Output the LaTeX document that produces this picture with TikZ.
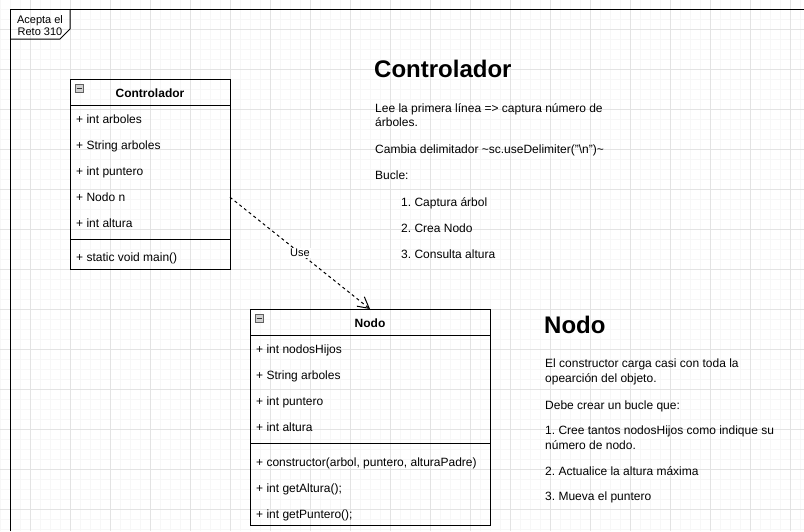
\documentclass[tikz,border=0pt]{standalone}
\usepackage{fontspec}
\setmainfont{Liberation Sans}
\usetikzlibrary{calc, positioning, arrows.meta}
\frenchspacing
\def\rowh{26}
\def\hdrh{26}
\def\txtindent{6}
\def\rowtxt{\fontsize{12}{14}\selectfont}
\def\tabtxt{\fontsize{11}{12.5}\selectfont}
\def\headtxt{\fontsize{24}{28}\selectfont\bfseries}
\tikzset{
% Grid
minor_grid/.style={gray!6, line width=1pt},
major_grid/.style={gray!22, line width=1pt},
% Frame
frame/.style={line width=1pt},
frame_label/.style={font=\tabtxt, align=center, inner sep=0pt},
% Class
class_box/.style={draw, line width=1pt, outer sep=0pt, inner sep=0pt, anchor=north west},
class_line/.style={line width=1pt},
class_title/.style={font=\rowtxt\bfseries, anchor=base, inner sep=0pt},
class_row/.style={font=\rowtxt, anchor=base west, inner sep=0pt},
collapse_box/.style={draw=gray!75!black, fill=gray!35, line width=0.8pt, minimum size=8pt, inner sep=0pt},
collapse_minus/.style={line width=1pt, black!80},
% Dependency
use_edge/.style={line width=1pt, dash pattern=on 3pt off 3pt, -{Straight Barb[length=11pt, width=12pt]}},
edge_label/.style={font=\tabtxt, fill=white, inner sep=1pt},
% Notes
note_head/.style={font=\headtxt, anchor=base west, inner sep=0pt},
note_text/.style={font=\rowtxt, anchor=base west, inner sep=0pt},
}
\begin{document}
\begin{tikzpicture}[x=1pt, y=-1pt]
		\useasboundingbox (0,0) rectangle (804,531);

		% Grid
		\foreach \gx in {0,10,...,800} \draw[minor_grid] (\gx,0) -- (\gx,531);
		\foreach \gy in {9,19,...,529} \draw[minor_grid] (0,\gy) -- (804,\gy);
		\foreach \gx in {30,70,...,790} \draw[major_grid] (\gx,0) -- (\gx,531);
		\foreach \gy in {29,69,...,509} \draw[major_grid] (0,\gy) -- (804,\gy);

		% Frame
		\coordinate (frame_nw) at (10,9);
		\draw[frame] (10,531) -- (frame_nw) -- (804,9);
		\draw[frame] (frame_nw) ++(0,30) -- ++(50,0) -- ++(10,-10) -- ++(0,-20);
		\node[frame_label] (frame_tab) at (40,25.5) {Acepta el\\Reto 310};

		% Controlador class
		\node[class_box, minimum width=160pt, minimum height=190pt] 
			 (ctrl) at (70,79) {};
		\draw[class_line] ($(ctrl.north west)+(0,\hdrh)$) -- ($(ctrl.north east)+(0,\hdrh)$);
		\node[class_title] (ctrl_title) at ($(ctrl.north)+(0,18.5)$) {Controlador};
		\node[collapse_box] (ctrl_min) at ($(ctrl.north west)+(9,9)$) {};
		\draw[collapse_minus] ($(ctrl_min.center)+(-2.5,0)$) -- ($(ctrl_min.center)+(2.5,0)$);
		\foreach \fld [count=\i] in {int arboles, String arboles, int puntero, Nodo n, int altura}
			\node[class_row] (ctrl_f\i) at ($(ctrl.north west)+(\txtindent,\hdrh+\i*\rowh-\rowh/2+5.5)$) {+ \fld};
		\draw[class_line] ($(ctrl.north west)+(0,160)$) -- ($(ctrl.north east)+(0,160)$);
		\node[class_row] (ctrl_m1) at ($(ctrl.north west)+(\txtindent,182.5)$) {+ static void main()};

		% Nodo class
		\node[class_box, minimum width=240pt, minimum height=216pt] 
			 (nodo) at (250,309) {};
		\draw[class_line] ($(nodo.north west)+(0,\hdrh)$) -- ($(nodo.north east)+(0,\hdrh)$);
		\node[class_title] (nodo_title) at ($(nodo.north)+(0,18.5)$) {Nodo};
		\node[collapse_box] (nodo_min) at ($(nodo.north west)+(9,9)$) {};
		\draw[collapse_minus] ($(nodo_min.center)+(-2.5,0)$) -- ($(nodo_min.center)+(2.5,0)$);
		\foreach \fld [count=\i] in {int nodosHijos, String arboles, int puntero, int altura}
			\node[class_row] (nodo_f\i) at ($(nodo.north west)+(\txtindent,\hdrh+\i*\rowh-\rowh/2+5.5)$) {+ \fld};
		\draw[class_line] ($(nodo.north west)+(0,134.5)$) -- ($(nodo.north east)+(0,134.5)$);
		\foreach \mth [count=\i] in {{constructor(arbol, puntero, alturaPadre)}, {int getAltura();}, {int getPuntero();}}
			\node[class_row] (nodo_m\i) at ($(nodo.north west)+(\txtindent,131.5+\i*\rowh)$) {+ \mth};

		% Dependency
		\draw[use_edge] (ctrl.east |- ctrl_f4.west) -- node[edge_label] (use_lbl) {Use} (nodo.north);

		% Notes on Controlador
		\node[note_head] (ctrl_head) at (374,77.5) {Controlador};
		\node[note_text] (ctrl_n1) at (375,112.5) {Lee la primera línea => captura número de};
		\node[note_text] (ctrl_n2) at (375,126.5) {árboles.};
		\node[note_text] (ctrl_n3) at (375,153) {Cambia delimitador \textasciitilde sc.useDelimiter("\textbackslash n")\textasciitilde};
		\node[note_text] (ctrl_n4) at (375,179) {Bucle:};
		\node[note_text] (ctrl_s1) at (401,206) {1. Captura árbol};
		\node[note_text] (ctrl_s2) at (401,232) {2. Crea Nodo};
		\node[note_text] (ctrl_s3) at (401,258) {3. Consulta altura};

		% Notes on Nodo
		\node[note_head] (nodo_head) at (544,333.5) {Nodo};
		\node[note_text] (nodo_n1) at (545,367.5) {El constructor carga casi con toda la};
		\node[note_text] (nodo_n2) at (545,382) {opearción del objeto.};
		\node[note_text] (nodo_n3) at (545,409) {Debe crear un bucle que:};
		\node[note_text] (nodo_n4) at (545,434) {1. Cree tantos nodosHijos como indique su};
		\node[note_text] (nodo_n5) at (545,449) {número de nodo.};
		\node[note_text] (nodo_n6) at (545,475.5) {2. Actualice la altura máxima};
		\node[note_text] (nodo_n7) at (545,500.5) {3. Mueva el puntero};
\end{tikzpicture}
\end{document}
